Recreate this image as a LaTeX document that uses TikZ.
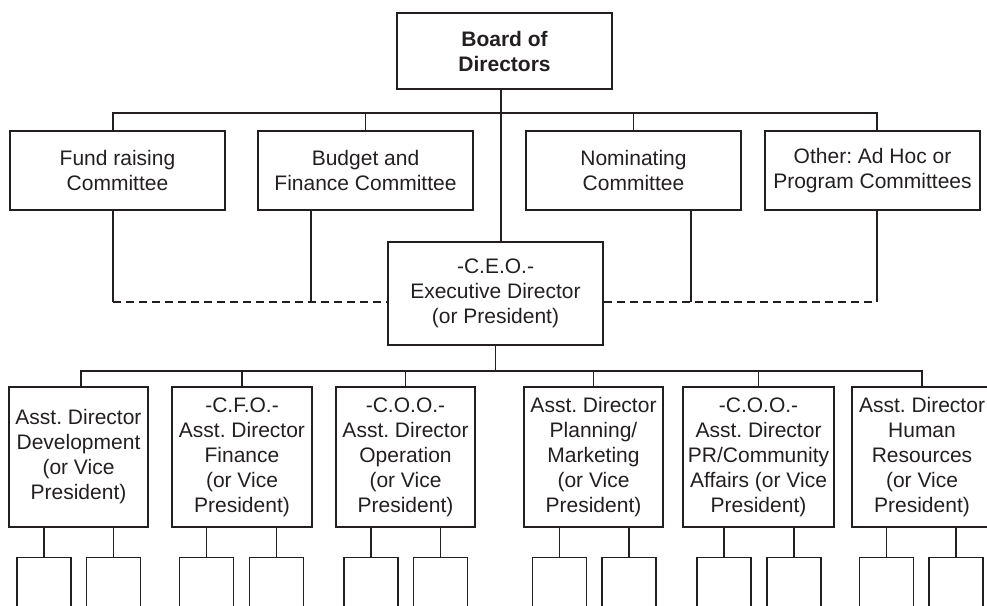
\documentclass[tikz,border=0pt]{standalone}
\usepackage{fontspec}
\setmainfont{Liberation Sans}
\frenchspacing
\definecolor{ink}{HTML}{231F20}
\begin{document}
\begin{tikzpicture}[x=1pt,y=-1pt,
  box/.style={draw=ink,line width=2.2pt,inner sep=0pt,align=center,text=ink,
    font=\fontsize{21}{25}\selectfont},
  cbox/.style={box,minimum width=215pt,minimum height=79pt},
  dbox/.style={box,minimum width=139pt,minimum height=140pt},
  sbox/.style={draw=ink,line width=1.4pt,minimum width=54pt,minimum height=70pt,inner sep=0pt,anchor=north},
  conn/.style={draw=ink,line width=1.1pt},
  dconn/.style={conn,dash pattern=on 8pt off 5pt}]
\useasboundingbox (0,0) rectangle (987,605);
\clip (0,0) rectangle (987,605);
% top
\node[box,minimum width=215pt,minimum height=76pt,font=\fontsize{21}{25}\selectfont\bfseries] (board) at (504.5,51) {Board of\\Directors};
\node[cbox] (fund) at (117.5,170.5) {Fund raising\\Committee};
\node[cbox] (budget) at (365.5,170.5) {Budget and\\Finance Committee};
\node[cbox] (nom) at (633.5,170.5) {Nominating\\Committee};
\node[cbox] (other) at (872.5,170.5) {Other: Ad Hoc or\\Program Committees};
\node[box,minimum width=215pt,minimum height=103pt] (ceo) at (495.5,293.5) {-C.E.O.-\\Executive Director\\(or President)};
% directors
\node[dbox] (d1) at (78.5,457) {Asst. Director\\Development\\(or Vice\\President)};
\node[dbox,minimum width=140pt] (d2) at (242,457) {-C.F.O.-\\Asst. Director\\Finance\\(or Vice\\President)};
\node[dbox] (d3) at (405.5,457) {-C.O.O.-\\Asst. Director\\Operation\\(or Vice\\President)};
\node[dbox] (d4) at (593.5,457) {Asst. Director\\Planning/\\Marketing\\(or Vice\\President)};
\node[dbox,minimum width=151pt] (d5) at (758.5,457) {-C.O.O.-\\Asst. Director\\PR/Community\\Affairs (or Vice\\President)};
\node[dbox,minimum width=140pt] (d6) at (922,457) {Asst. Director\\Human\\Resources\\(or Vice\\President)};
% sub boxes
\node[sbox] (s1a) at (44,557) {};
\node[sbox] (s1b) at (113.5,557) {};
\node[sbox] (s2a) at (206.5,557) {};
\node[sbox] (s2b) at (276.5,557) {};
\node[sbox] (s3a) at (371,557) {};
\node[sbox] (s3b) at (440.5,557) {};
\node[sbox] (s4a) at (559.5,557) {};
\node[sbox] (s4b) at (629,557) {};
\node[sbox] (s5a) at (724,557) {};
\node[sbox] (s5b) at (794,557) {};
\node[sbox] (s6a) at (886.5,557) {};
\node[sbox] (s6b) at (956,557) {};
% board connectors
\coordinate (bus1) at (0,113);
\coordinate (dash) at (0,302);
\coordinate (bus2) at (0,371);
\draw[conn] ([xshift=-3.5pt]board.south) -- ([xshift=-3.5pt]board.south |- ceo.north);
\draw[conn] ([xshift=-4.5pt]fund.north) -- ([xshift=-4.5pt]fund.north |- bus1) -- ([xshift=4.5pt]other.north |- bus1) -- ([xshift=4.5pt]other.north);
\draw[conn] (budget.north) -- (budget.north |- bus1);
\draw[conn] (nom.north) -- (nom.north |- bus1);
% committee to ceo
\draw[conn] ([xshift=-4.5pt]fund.south) -- ([xshift=-4.5pt]fund.south |- dash);
\draw[conn] ([xshift=-54.5pt]budget.south) -- ([xshift=-54.5pt]budget.south |- dash);
\draw[conn] ([xshift=57.5pt]nom.south) -- ([xshift=57.5pt]nom.south |- dash);
\draw[conn] ([xshift=4.5pt]other.south) -- ([xshift=4.5pt]other.south |- dash);
\draw[dconn] ([xshift=-4.5pt]fund.south |- dash) -- (ceo.west |- dash);
\draw[dconn] (ceo.east |- dash) -- ([xshift=4.5pt]other.south |- dash);
% ceo to directors
\draw[conn] (ceo.south) -- (ceo.south |- bus2);
\draw[conn] ([xshift=2.5pt]d1.north) -- ([xshift=2.5pt]d1.north |- bus2) -- (d6.north |- bus2) -- (d6.north);
\foreach \d in {d2,d3,d4,d5} \draw[conn] (\d.north) -- (\d.north |- bus2);
% directors to sub boxes
\foreach \d/\a/\b in {d1/s1a/s1b,d2/s2a/s2b,d3/s3a/s3b,d4/s4a/s4b,d5/s5a/s5b,d6/s6a/s6b}{
  \draw[conn] (\a.north |- \d.south) -- (\a.north);
  \draw[conn] (\b.north |- \d.south) -- (\b.north);
}
\end{tikzpicture}
\end{document}
